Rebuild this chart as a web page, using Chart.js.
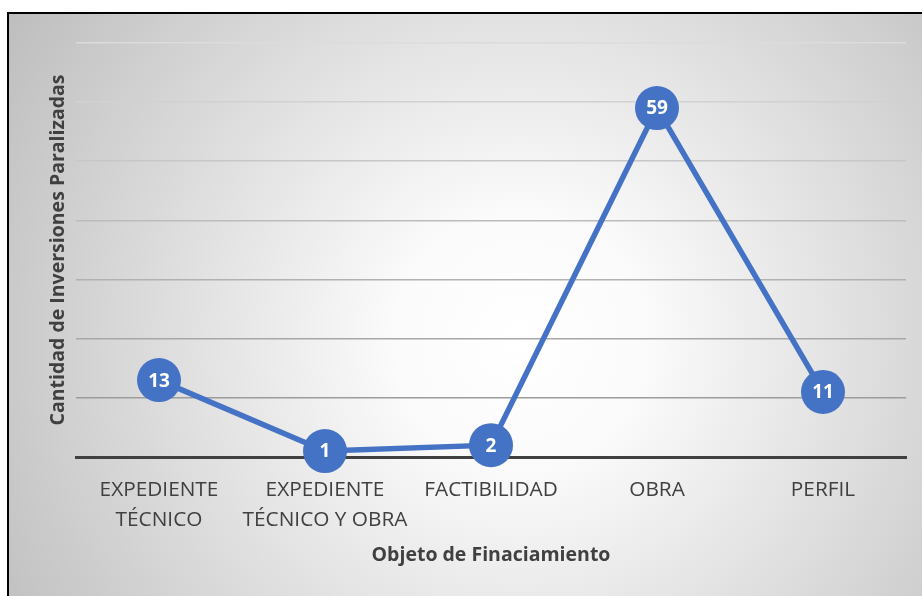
<!DOCTYPE html>
<html><head><meta charset="utf-8">
<script src="https://cdn.jsdelivr.net/npm/chart.js@4.4.1/dist/chart.umd.min.js"></script>
<style>html,body{margin:0;padding:0;background:#fff;}#wrap{width:922px;height:596px;position:relative;}</style>
</head><body><div id="wrap"><canvas id="c" width="922" height="596"></canvas></div>
<script>
const categories = [["EXPEDIENTE","TÉCNICO"],["EXPEDIENTE","TÉCNICO Y OBRA"],"FACTIBILIDAD","OBRA","PERFIL"];
const values = [13, 1, 2, 59, 11];
const yTitle = "Cantidad de Inversiones Paralizadas";
const xTitle = "Objeto de Finaciamiento";

const bgPlugin = {
  id: 'bg',
  beforeDraw(chart) {
    const ctx = chart.ctx;
    ctx.save();
    const g = ctx.createRadialGradient(520, 340, 0, 520, 340, 620);
    g.addColorStop(0, '#ffffff');
    g.addColorStop(0.2, '#fbfbfb');
    g.addColorStop(1, '#bcbcbc');
    ctx.fillStyle = g;
    ctx.fillRect(9, 14, 922, 596);
    ctx.strokeStyle = '#000';
    ctx.lineWidth = 2;
    ctx.strokeRect(8, 13, 930, 600);
    ctx.restore();
  }
};
const labelPlugin = {
  id: 'vals',
  afterDatasetsDraw(chart) {
    const ctx = chart.ctx;
    const meta = chart.getDatasetMeta(0);
    ctx.save();
    ctx.fillStyle = '#fff';
    ctx.font = 'bold 19px "Open Sans", sans-serif';
    ctx.textAlign = 'center';
    ctx.textBaseline = 'middle';
    meta.data.forEach((p, i) => ctx.fillText(String(values[i]), p.x, p.y + 1));
    ctx.restore();
  }
};
function gridColor(c) {
  const v = c.tick.value;
  if (v === 0) return 'rgba(0,0,0,0)';
  const t = (v - 10) / 60;
  const g = Math.round(0x9c + t * (0xdc - 0x9c));
  return `rgb(${g},${g},${g})`;
}

new Chart(document.getElementById('c'), {
  type: 'line',
  data: { labels: categories, datasets: [{
    data: values, borderColor: '#4472C4', backgroundColor: '#4472C4',
    borderWidth: 5.5, pointRadius: 22, pointHoverRadius: 22, pointBorderWidth: 0, tension: 0, clip: false
  }]},
  options: {
    responsive: false, animation: false, devicePixelRatio: 1,
    layout: { autoPadding: false, padding: { left: 0, right: 16, top: 43, bottom: 0 } },
    plugins: { legend: { display: false }, tooltip: { enabled: false } },
    scales: {
      x: {
        offset: true,
        grid: { display: false, drawTicks: false, tickLength: 0 },
        border: { display: true, color: '#404040', width: 3 },
        ticks: { color: '#404040', font: { family: 'Open Sans', size: 20.8, lineHeight: 1.44 }, maxRotation: 0, autoSkip: false, padding: 18 },
        title: { display: true, text: xTitle, color: '#404040', font: { family: 'Open Sans', size: 19.5, weight: 'bold', lineHeight: 1.2 }, padding: { top: 0, bottom: 29 } },
        afterFit: (s) => { s.height = 139; }
      },
      y: {
        min: 0, max: 70,
        ticks: { display: false, stepSize: 10 },
        border: { display: false },
        grid: { color: gridColor, lineWidth: 1.6, drawTicks: false },
        title: { display: true, text: yTitle, color: '#404040', font: { family: 'Open Sans', size: 19.5, weight: 'bold', lineHeight: 1.2 }, padding: { top: 47, bottom: 0 } },
        afterFit: (s) => { s.width = 76; }
      }
    }
  },
  plugins: [bgPlugin, labelPlugin]
});
</script></body></html>
